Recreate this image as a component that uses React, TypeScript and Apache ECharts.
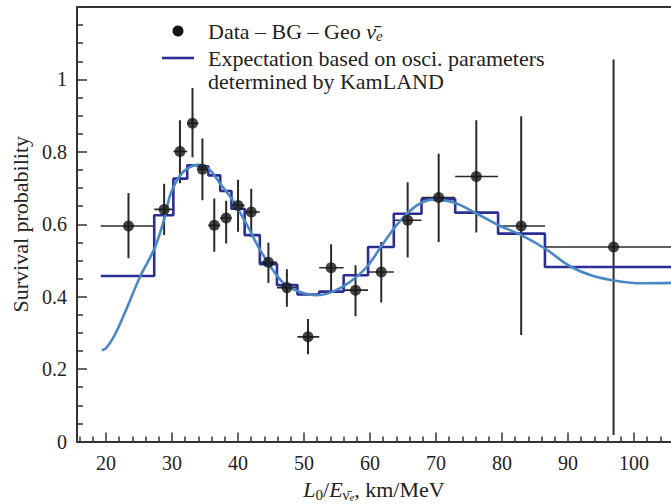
import React, { useEffect, useRef } from "react";
import * as echarts from "echarts";

// Bin edges of the measured L0/E bins (km/MeV)
const binEdges = [19.2, 27.3, 30.2, 32.3, 34.0, 35.5, 37.3, 39.0, 41.0, 43.3, 45.9, 49.0, 52.3, 56.0, 59.7, 63.6, 67.8, 72.9, 79.4, 86.5, 110];
// Expected survival probability per bin (histogram)
const stepLevels = [0.457, 0.625, 0.726, 0.763, 0.760, 0.735, 0.692, 0.643, 0.570, 0.490, 0.432, 0.406, 0.414, 0.459, 0.537, 0.629, 0.669, 0.632, 0.574, 0.482];
// Data – BG – Geo antineutrinos
const dataX = [23.4, 28.8, 31.2, 33.1, 34.6, 36.4, 38.2, 40.0, 42.0, 44.6, 47.4, 50.6, 54.1, 57.8, 61.7, 65.7, 70.4, 76.1, 82.9, 96.9];
const dataY = [0.595, 0.641, 0.801, 0.879, 0.752, 0.597, 0.617, 0.652, 0.634, 0.495, 0.425, 0.289, 0.480, 0.418, 0.468, 0.611, 0.674, 0.732, 0.595, 0.537];
const dataLow = [0.506, 0.570, 0.713, 0.785, 0.666, 0.524, 0.547, 0.579, 0.565, 0.438, 0.372, 0.241, 0.416, 0.346, 0.384, 0.508, 0.551, 0.577, 0.294, 0.018];
const dataHigh = [0.686, 0.712, 0.887, 0.976, 0.837, 0.671, 0.665, 0.723, 0.698, 0.549, 0.476, 0.338, 0.545, 0.487, 0.551, 0.716, 0.795, 0.887, 0.898, 1.055];
// Smooth expectation curve
const curveX = [19.35, 20.0, 21.0, 22.0, 23.0, 24.0, 25.15, 26.3, 27.5, 28.7, 29.7, 30.7, 31.7, 32.7, 33.8, 35.5, 37.3, 39.3, 41.3, 43.3, 45.9, 47.4, 49.4, 51.9, 54.4, 57.0, 59.5, 62.0, 64.5, 67.1, 69.5, 72.7, 76.2, 79.5, 82.7, 86.5, 90.3, 93.8, 97.9, 101.0, 105.6];
const curveY = [0.252, 0.258, 0.284, 0.32, 0.362, 0.406, 0.455, 0.495, 0.54, 0.607, 0.68, 0.72, 0.745, 0.758, 0.764, 0.754, 0.712, 0.663, 0.600, 0.530, 0.458, 0.430, 0.413, 0.404, 0.414, 0.441, 0.482, 0.547, 0.608, 0.652, 0.668, 0.660, 0.629, 0.597, 0.572, 0.533, 0.484, 0.457, 0.442, 0.437, 0.438];
// Axis ticks
const xMajorTicks = [20, 30, 40, 50, 60, 70, 80, 90, 100];
const xMinorTicks = [16, 18, 22, 24, 26, 28, 32, 34, 36, 38, 42, 44, 46, 48, 52, 54, 56, 58, 62, 64, 66, 68, 72, 74, 76, 78, 82, 84, 86, 88, 92, 94, 96, 98, 102, 104];
const xMin = 15.6;
const xMax = 105.6;

const FONT = "Liberation Serif, Times New Roman, serif";
const AXIS = "#333333";
const TEXT = "#222222";
const STEP = "#2b2e93";
const CURVE = "#4b87c5";
const TF = 22; // title / legend font size
const LF = 20; // tick label font size

export default function App() {
  const ref = useRef<HTMLDivElement>(null);
  useEffect(() => {
    document.body.style.margin = "0";
    const chart = echarts.init(ref.current!, null, { renderer: "svg" });

    const stepData: number[][] = [];
    stepLevels.forEach((lv, i) => {
      stepData.push([binEdges[i], lv]);
      stepData.push([binEdges[i + 1], lv]);
    });
    const curveData = curveX.map((x, i) => [x, curveY[i]]);
    const errData = dataX.map((x, i) => [x, dataY[i], dataLow[i], dataHigh[i], binEdges[i], binEdges[i + 1]]);
    const pts = dataX.map((x, i) => [x, dataY[i]]);

    const option: any = {
      animation: false,
      textStyle: { fontFamily: FONT },
      grid: { left: 77, right: 0, top: 7, bottom: 62.5, outerBoundsMode: "none", containLabel: false },
      xAxis: [
        {
          type: "value",
          min: xMin,
          max: xMax,
          position: "bottom",
          axisLine: { show: true, onZero: false, lineStyle: { color: AXIS, width: 2 } },
          axisTick: { show: true, inside: true, length: 9, customValues: xMajorTicks, lineStyle: { color: AXIS, width: 1.5 } },
          axisLabel: { customValues: xMajorTicks, fontSize: LF, color: TEXT, fontFamily: FONT, margin: 11 },
          splitLine: { show: false },
          name: "{i|L}{sub|0}{n|/}{i|E}{sub|ν̄}{sube|e}{n|, km/MeV}",
          nameLocation: "middle",
          nameGap: 33,
          nameTextStyle: {
            fontFamily: FONT,
            color: TEXT,
            rich: {
              i: { fontSize: TF, fontStyle: "italic", fontFamily: FONT, color: TEXT, lineHeight: 26 },
              n: { fontSize: TF, fontFamily: FONT, color: TEXT, lineHeight: 26 },
              sub: { fontSize: 15, fontFamily: FONT, color: TEXT, lineHeight: 26, padding: [10, 0, 0, 0] },
              sube: { fontSize: 11, fontStyle: "italic", fontFamily: FONT, color: TEXT, lineHeight: 26, padding: [14, 0, 0, 0] },
            },
          },
        },
        {
          type: "value",
          min: xMin,
          max: xMax,
          position: "bottom",
          axisLine: { show: false },
          axisTick: { show: true, inside: true, length: 5, customValues: xMinorTicks, lineStyle: { color: AXIS, width: 1.5 } },
          axisLabel: { show: false },
          splitLine: { show: false },
        },
        {
          type: "value",
          min: xMin,
          max: xMax,
          position: "top",
          axisLine: { show: true, onZero: false, lineStyle: { color: AXIS, width: 2 } },
          axisTick: { show: false },
          axisLabel: { show: false },
          splitLine: { show: false },
        },
      ],
      yAxis: {
        type: "value",
        min: 0,
        max: 1.2,
        interval: 0.2,
        axisLine: { show: true, onZero: false, lineStyle: { color: AXIS, width: 2 } },
        axisTick: { show: true, inside: true, length: 10, lineStyle: { color: AXIS, width: 1.5 } },
        minorTick: { show: true, splitNumber: 4, length: 6, lineStyle: { color: AXIS, width: 1.5 } },
        axisLabel: {
          fontSize: LF,
          color: TEXT,
          fontFamily: FONT,
          margin: 10,
          formatter: (v: number) => (v > 1.1 ? "" : String(Number(v.toFixed(1)))),
        },
        splitLine: { show: false },
        name: "Survival probability",
        nameLocation: "middle",
        nameGap: 44,
        nameTextStyle: { fontSize: TF, color: TEXT, fontFamily: FONT },
      },
      series: [
        {
          type: "custom",
          xAxisIndex: 0,
          clip: true,
          z: 2,
          data: errData,
          encode: { x: 0, y: 1 },
          renderItem: (params: any, api: any) => {
            const x = api.value(0);
            const y = api.value(1);
            const lo = api.coord([x, api.value(2)]);
            const hi = api.coord([x, api.value(3)]);
            const l = api.coord([api.value(4), y]);
            const r = api.coord([api.value(5), y]);
            return {
              type: "group",
              children: [
                { type: "line", shape: { x1: lo[0], y1: lo[1], x2: hi[0], y2: hi[1] }, style: { stroke: "#2a2a2a", lineWidth: 2 } },
                { type: "line", shape: { x1: l[0], y1: l[1], x2: r[0], y2: r[1] }, style: { stroke: "#2a2a2a", lineWidth: 1.6 } },
              ],
            };
          },
        },
        {
          type: "line",
          xAxisIndex: 0,
          data: stepData,
          showSymbol: false,
          clip: true,
          z: 3,
          lineStyle: { color: STEP, width: 2.6 },
        },
        {
          type: "line",
          xAxisIndex: 0,
          data: curveData,
          smooth: 0.35,
          showSymbol: false,
          clip: true,
          z: 4,
          lineStyle: { color: CURVE, width: 2.6 },
        },
        {
          type: "scatter",
          xAxisIndex: 0,
          data: pts,
          symbol: "circle",
          symbolSize: 11,
          z: 5,
          itemStyle: { color: "#151515" },
        },
      ],
      graphic: [
        { type: "circle", shape: { cx: 178, cy: 31, r: 5.5 }, style: { fill: "#151515" } },
        { type: "line", shape: { x1: 162, y1: 58, x2: 194, y2: 58 }, style: { stroke: STEP, lineWidth: 2.6 } },
        {
          type: "text",
          x: 208,
          y: 31,
          style: {
            text: "{n|Data – BG – Geo }{v|ν̄}{s|e}",
            verticalAlign: "middle",
            rich: {
              n: { fontSize: TF, fontFamily: FONT, fill: TEXT, lineHeight: 26 },
              v: { fontSize: TF, fontFamily: FONT, fontStyle: "italic", fill: TEXT, lineHeight: 26 },
              s: { fontSize: 15, fontFamily: FONT, fontStyle: "italic", fill: TEXT, lineHeight: 26, padding: [10, 0, 0, 0] },
            },
          },
        },
        {
          type: "text",
          x: 208,
          y: 58,
          style: { text: "Expectation based on osci. parameters", fontSize: TF, fontFamily: FONT, fill: TEXT, verticalAlign: "middle" },
        },
        {
          type: "text",
          x: 208,
          y: 81,
          style: { text: "determined by KamLAND", fontSize: TF, fontFamily: FONT, fill: TEXT, verticalAlign: "middle" },
        },
      ],
    };
    chart.setOption(option);
    return () => chart.dispose();
  }, []);
  return <div ref={ref} style={{ width: 671, height: 504 }} />;
}
